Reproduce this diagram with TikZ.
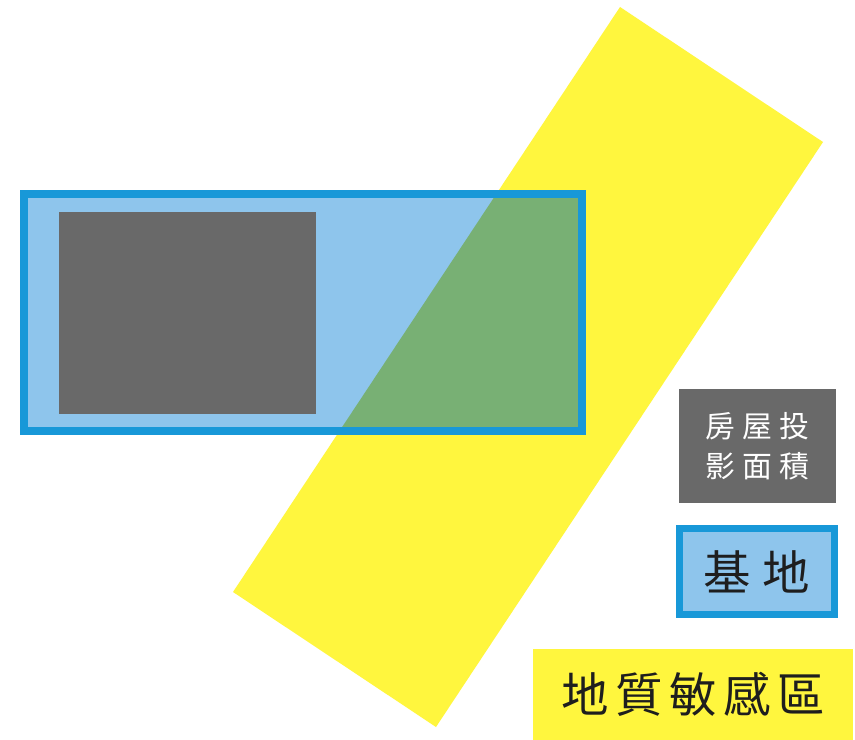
\documentclass[tikz,border=0pt]{standalone}
\usepackage{fontspec}
\newfontfamily\cjkwide[LetterSpace=25]{Noto Sans CJK TC}
\newfontfamily\cjkzone[LetterSpace=14]{Noto Sans CJK TC}

\definecolor{zoneyellow}{RGB}{255,246,62}
\definecolor{siteblue}{RGB}{24,152,216}
\definecolor{sitelight}{RGB}{142,197,236}
\definecolor{housegray}{RGB}{105,105,105}
\definecolor{overlapgreen}{RGB}{120,176,116}
\definecolor{inkblack}{RGB}{30,30,30}

\tikzset{
  zone/.style={fill=zoneyellow},
  site/.style={fill=sitelight},
  siteline/.style={draw=siteblue, line width=0.15cm},
  house/.style={fill=housegray},
  overlap/.style={fill=overlapgreen},
  housekey/.style={house, text=white, align=center, minimum width=3.14cm, minimum height=2.28cm,
    font=\cjkwide\fontsize{17pt}{23pt}\selectfont},
  sitekey/.style={site, siteline, text=inkblack, minimum width=3.1cm, minimum height=1.72cm,
    font=\cjkwide\fontsize{27pt}{30pt}\selectfont},
  zonekey/.style={zone, text=inkblack, minimum width=6.4cm, minimum height=1.82cm,
    font=\cjkzone\fontsize{27pt}{30pt}\selectfont}
}

\begin{document}
\begin{tikzpicture}[x=0.02cm, y=-0.02cm]
  \useasboundingbox[fill=white] (0,0) rectangle (855,740);

  % geologically sensitive band
  \coordinate (z1) at (620,7);
  \coordinate (z2) at (823,142);
  \coordinate (z3) at (436,727);
  \coordinate (z4) at (233,592);
  \fill[zone] (z1) -- (z2) -- (z3) -- (z4) -- cycle;

  % site
  \coordinate (s1) at (24,194);
  \coordinate (s2) at (582,431);
  \fill[site] (s1) rectangle (s2);
  \begin{scope}
    \clip (s1) rectangle (s2);
    \fill[overlap] (z1) -- (z2) -- (z3) -- (z4) -- cycle;
  \end{scope}
  \draw[siteline] (s1) rectangle (s2);

  % house footprint
  \fill[house] (59,212) rectangle (316,414);

  % legend
  \node[housekey] (key-house) at (757.5,446) {房屋投\\影面積};
  \node[sitekey] (key-site) at (757,571.5) {基地};
  \node[zonekey] (key-zone) at (693,694.5) {地質敏感區};
\end{tikzpicture}
\end{document}
